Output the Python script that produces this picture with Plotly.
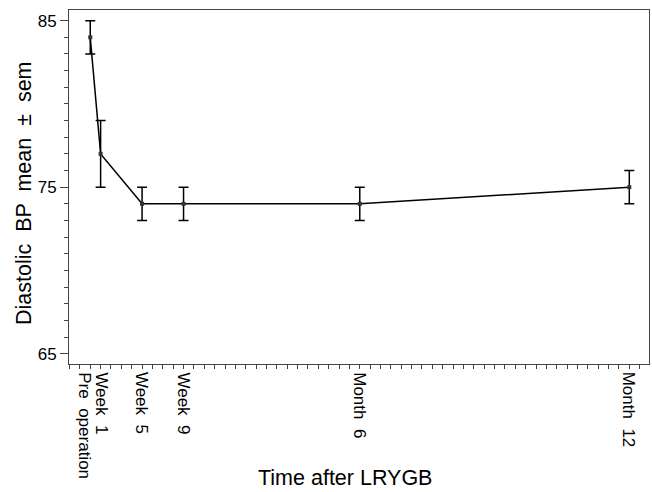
import plotly.graph_objects as go

weeks = [0, 1, 5, 9, 26, 52]
tick_labels = ["Pre  operation", "Week  1", "Week  5", "Week  9", "Month  6", "Month  12"]
label_shift = [-6, 1, 0, 0, 0, 0]
means = [84, 77, 74, 74, 74, 75]
sems = [1, 2, 1, 1, 1, 1]

FONT = "Liberation Sans, Arial, sans-serif"

fig = go.Figure()
fig.add_trace(go.Scatter(
    x=weeks, y=means, mode="lines+markers",
    line=dict(color="black", width=1.5),
    marker=dict(color="#333333", size=4, symbol="square"),
    error_y=dict(type="data", array=sems, visible=True, color="black", thickness=1.5, width=5),
    showlegend=False,
))

fig.update_layout(
    width=652, height=492,
    margin=dict(l=69, r=3, t=10, b=128),
    paper_bgcolor="white", plot_bgcolor="white",
    font=dict(family=FONT, color="black"),
)
fig.update_xaxes(
    range=[-2.05, 53.9], automargin=False,
    tickmode="array", tickvals=weeks, showticklabels=False,
    ticks="outside", ticklen=4, tickcolor="#444", tickwidth=1,
    minor=dict(dtick=1, tick0=0, ticks="outside", ticklen=4, tickcolor="#444", tickwidth=1),
    showline=True, linecolor="#444", linewidth=1, mirror=True,
    showgrid=False, zeroline=False,
)
fig.update_yaxes(
    range=[64.38, 85.64], automargin=False,
    tickmode="array", tickvals=[65, 75, 85],
    tickfont=dict(size=17, family=FONT),
    ticks="outside", ticklen=8, tickcolor="#444", tickwidth=1,
    minor=dict(dtick=1, tick0=65, ticks="outside", ticklen=4, tickcolor="#444", tickwidth=1),
    showline=True, linecolor="#444", linewidth=1, mirror=True,
    showgrid=False, zeroline=False,
)
for w, t, s in zip(weeks, tick_labels, label_shift):
    fig.add_annotation(text=t, x=w, xref="x", y=-(370 - 364) / 354, yref="paper",
                       showarrow=False, textangle=90, xanchor="center", yanchor="top",
                       xshift=s, font=dict(size=17, family=FONT))
fig.add_annotation(text="Time after LRYGB", xref="paper", yref="paper",
                   x=(345 - 69) / 580, y=-(478 - 364) / 354, showarrow=False,
                   xanchor="center", yanchor="middle", font=dict(size=21.5, family=FONT))
fig.add_annotation(text="Diastolic  BP  mean  ±  sem", xref="paper", yref="paper",
                   x=(24 - 69) / 580, y=(364 - 193) / 354, showarrow=False, textangle=-90,
                   xanchor="center", yanchor="middle", font=dict(size=21.5, family=FONT))

fig.write_html("out.html", config={"displayModeBar": False},
               post_script="document.body.style.margin='0';")
